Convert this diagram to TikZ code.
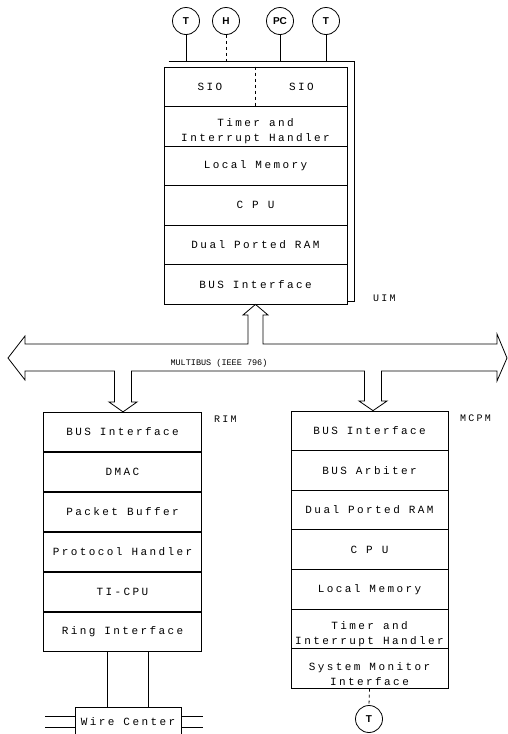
\documentclass[tikz,border=0pt]{standalone}
\usepackage{fontspec}
\setmainfont{Liberation Serif}
\newfontfamily\boxfont[LetterSpace=22]{Liberation Mono}
\newfontfamily\busfont{Liberation Mono}
\newfontfamily\circfont{Liberation Sans}
\usetikzlibrary{calc}
\tikzset{
  ln/.style={line width=0.8pt},
  row/.style={draw, line width=0.8pt, inner sep=0pt, minimum height=39.5pt,
    font=\boxfont\fontsize{11}{14}\selectfont},
  txt/.style={inner sep=0pt, align=center, font=\boxfont\fontsize{11}{14.5}\selectfont},
  circ/.style={draw, circle, line width=0.8pt, minimum size=27pt, inner sep=0pt,
    font=\circfont\bfseries\fontsize{10}{12}\selectfont},
  lbl/.style={inner sep=0pt, anchor=west, font=\boxfont\fontsize{10}{12}\selectfont},
}
\begin{document}
\begin{tikzpicture}[x=1pt,y=-1pt]
\useasboundingbox[fill=white] (0,0) rectangle (508,734);

% ---------------- UIM ----------------
\begin{scope}[every node/.append style={minimum width=183pt}]
\node[row] (sio) at (255.5,86.75) {};
\node[row] (utimer) at (255.5,126.25) {};
\node[row] (umem) at (255.5,165.75) {Local Memory};
\node[row] (ucpu) at (255.5,205.25) {C P U};
\node[row] (uram) at (255.5,244.75) {Dual Ported RAM};
\node[row] (ubus) at (255.5,284.25) {BUS Interface};
\end{scope}
\node[txt] (sioa) at (210,86.75) {SIO};
\node[txt] (siob) at (301.5,86.75) {SIO};
\draw[ln, dashed] (sio.north) -- (sio.south);
\node[txt] (utimert) at (255.5,131) {Timer and\\Interrupt Handler};
% frame behind the UIM
\coordinate (ftl) at ($(sio.north west)+(5,-5)$);
\coordinate (ftr) at ($(sio.north east)+(7,-5)$);
\coordinate (fbr) at ($(ubus.south east)+(7,-3)$);
\coordinate (fbj) at ($(ubus.south east)+(0,-3)$);
\draw[ln] (ftl) -- (ftr) -- (fbr) -- (fbj);
\node[lbl] (uim) at (373,298) {UIM};

% terminals
\node[circ] (t1) at (186,21) {T};
\node[circ] (h1) at (226,21) {H};
\node[circ] (pc) at (280,21) {PC};
\node[circ] (t2) at (326,21) {T};
\draw[ln] (t1.south) -- (t1.south |- ftl);
\draw[ln, dashed] (h1.south) -- (h1.south |- ftl);
\draw[ln] (pc.south) -- (pc.south |- ftl);
\draw[ln] (t2.south) -- (t2.south |- ftl);

% ---------------- RIM ----------------
\begin{scope}[every node/.append style={minimum width=158pt, minimum height=40pt}]
\node[row] (rbus) at (122.5,432) {BUS Interface};
\node[row] (rdmac) at (122.5,472) {DMAC};
\node[row] (rpb) at (122.5,512) {Packet Buffer};
\node[row] (rph) at (122.5,552) {Protocol Handler};
\node[row] (rcpu) at (122.5,592) {TI-CPU};
\node[row] (ring) at (122.5,632) {Ring Interface};
\end{scope}
\node[lbl] (rim) at (214,419) {RIM};

% Wire center
\node[txt] (wc) at (128,722) {Wire Center};
\coordinate (wcl) at (75,707);
\coordinate (wcr) at (181,707);
\draw[ln] (75,740) -- (wcl) -- (wcr) -- (181,740);
\coordinate (wa) at (107,707);
\coordinate (wb) at (148,707);
\draw[ln] (wa |- ring.south) -- (wa);
\draw[ln] (wb |- ring.south) -- (wb);
\draw[ln] (45,716) -- (75,716);
\draw[ln] (45,727) -- (75,727);
\draw[ln] (181,716) -- (203,716);
\draw[ln] (181,727) -- (203,727);

% ---------------- MCPM ----------------
\begin{scope}[every node/.append style={minimum width=157pt, minimum height=39.6pt}]
\node[row] (mbus) at (369.5,430.8) {BUS Interface};
\node[row] (marb) at (369.5,470.4) {BUS Arbiter};
\node[row] (mram) at (369.5,510) {Dual Ported RAM};
\node[row] (mcpu) at (369.5,549.6) {C P U};
\node[row] (mmem) at (369.5,589.2) {Local Memory};
\node[row] (mtimer) at (369.5,628.8) {};
\node[row] (msm) at (369.5,668.4) {};
\end{scope}
\node[txt] (mtimert) at (369.5,634) {Timer and\\Interrupt Handler};
\node[txt] (msmt) at (369.5,674) {System Monitor\\Interface};
\node[lbl] (mcpm) at (460,418) {MCPM};
\node[circ] (t3) at (369,719) {T};
\draw[ln, dashed] (msm.south) -- (t3.north);

% ---------------- MULTIBUS ----------------
\draw[ln, line join=miter]
  (8,358) -- (25,336) -- (25,344) -- (248,344) -- (248,315) -- (243,315)
  -- (ubus.south) -- (268,315) -- (263,315) -- (263,344)
  -- (497,344) -- (497,334) -- (507,358) -- (497,381) -- (497,371)
  -- (381.5,371) -- (381.5,401) -- (387,401) -- (mbus.north -| 373,0)
  -- (359,401) -- (364.5,401) -- (364.5,371)
  -- (131.5,371) -- (131.5,402) -- (137,402) -- (rbus.north -| 123,0)
  -- (109,402) -- (114.5,402) -- (114.5,371)
  -- (25,371) -- (25,380) -- cycle;
\node[inner sep=0pt, font=\busfont\fontsize{8.5}{10}\selectfont] (busl) at (219,363) {MULTIBUS (IEEE 796)};
\end{tikzpicture}
\end{document}
